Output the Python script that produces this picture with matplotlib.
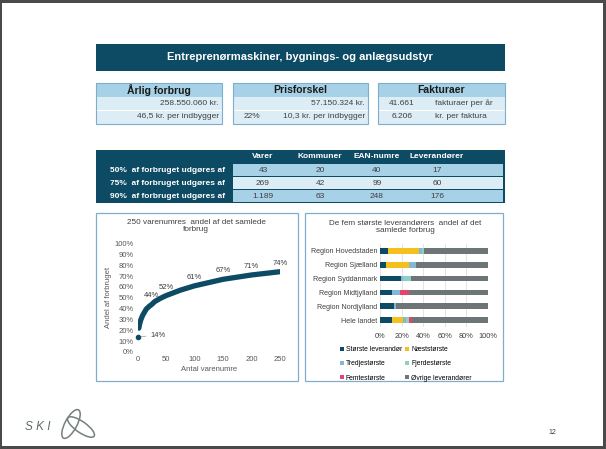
import matplotlib
matplotlib.use("Agg")
import matplotlib.pyplot as plt
from matplotlib.patches import Rectangle, Ellipse

plt.rcParams['font.family'] = ['Liberation Sans', 'DejaVu Sans']

# ---- data ----
titel = "Entreprenørmaskiner, bygnings- og anlægsudstyr"

boks_titler = ["Årlig forbrug", "Prisforskel", "Fakturaer"]
forbrug_kr = "258.550.060 kr."
forbrug_indb = "46,5 kr. per indbygger"
prisforskel_kr = "57.150.324 kr."
prisforskel_pct = "22%"
prisforskel_indb = "10,3 kr. per indbygger"
fakturaer_antal = ["41.661", "6.206"]
fakturaer_tekst = ["fakturaer per år", "kr. per faktura"]

tabel_kolonner = ["Varer", "Kommuner", "EAN-numre", "Leverandører"]
tabel_raekker = ["50%  af forbruget udgøres af", "75%  af forbruget udgøres af",
                 "90%  af forbruget udgøres af"]
tabel_vaerdier = [["43", "20", "40", "17"],
                  ["269", "42", "99", "60"],
                  ["1.189", "63", "248", "176"]]

# left chart: cumulative share for the 250 largest item numbers
vare_x = [1, 2, 3, 5, 8, 10, 15, 20, 25, 30, 40, 50, 60, 75, 100, 125, 150, 175, 200, 225, 250]
andel = [14, 22, 25, 29, 33, 35, 39.5, 42, 44, 46.5, 49.5, 52, 54, 57, 61, 64, 67, 69, 71, 72.5, 74]
label_x = [1, 25, 50, 100, 150, 200, 250]

# right chart: supplier shares per region (%)
regioner = ["Region Hovedstaden", "Region Sjælland", "Region Syddanmark",
            "Region Midtjylland", "Region Nordjylland", "Hele landet"]
stoerste = [7.5, 5.5, 19, 11, 12.5, 11]
naeststoerste = [29, 21, 0, 0, 0, 10.5]
tredje = [2, 7, 2, 7.5, 2, 3]
fjerde = [2.5, 0, 7.5, 0, 0, 2.5]
femte = [0, 0, 0, 8, 0, 3]
serier = ["Største leverandør", "Næststørste", "Tredjestørste",
          "Fjerdestørste", "Femtestørste", "Øvrige leverandører"]

MORK = "#0d4a64"
LYS = "#a7d1e6"
BLEG = "#dcedf6"
KANT = "#7eaecb"
farver = [MORK, "#f3c01c", "#86b6d6", "#8ccfc4", "#e4426f", "#6d7576"]

W, H = 606, 449
fig = plt.figure(figsize=(W / 100, H / 100), dpi=100)
ax0 = fig.add_axes([0, 0, 1, 1])
ax0.set_xlim(0, W)
ax0.set_ylim(H, 0)
ax0.axis("off")


def rect(x0, y0, x1, y1, fc, ec="none", lw=0.8):
    ax0.add_patch(Rectangle((x0, y0), x1 - x0, y1 - y0, fc=fc, ec=ec, lw=lw))


def tekst(x, y, s, **kw):
    kw.setdefault("fontsize", 6)
    kw.setdefault("va", "center")
    ax0.text(x, y, s, **kw)


# slide frame
rect(0, 0, W, H, "#4a4a4a")
rect(2, 3, 603, 446, "white")

# banner
rect(96, 44, 505, 71, MORK)
tekst(300, 57.5, titel, ha="center", color="white", fontsize=8, fontweight="bold")

# three key figure boxes
bokse = [(96, 222), (233, 368), (378, 505)]
for (x0, x1), t in zip(bokse, boks_titler):
    rect(x0, 97, x1, 124, BLEG)
    rect(x0, 83, x1, 97, LYS)
    rect(x0, 110, x1, 110.6, "white")
    rect(x0, 83, x1, 124, "none", ec=KANT, lw=0.8)
    tekst((x0 + x1) / 2, 90, t, ha="center", fontsize=7.5, fontweight="bold", color="#1a1a1a")

tekst(219, 103.5, forbrug_kr, ha="right", color="#404040")
tekst(219, 117, forbrug_indb, ha="right", color="#404040")
tekst(365, 103.5, prisforskel_kr, ha="right", color="#404040")
tekst(244, 117, prisforskel_pct, ha="left", color="#404040")
tekst(365, 117, prisforskel_indb, ha="right", color="#404040")
for i, y in enumerate([103.5, 117]):
    tekst(402, y, fakturaer_antal[i], ha="center", color="#404040")
    tekst(435, y, fakturaer_tekst[i], ha="left", color="#404040")

# table
rect(96, 150, 505, 203, MORK)
kol_x = [263, 320, 377, 437]
raekke_y = [(164, 177), (177, 190), (190, 203)]
for kx, k in zip(kol_x, tabel_kolonner):
    tekst(kx, 157, k, ha="center", color="white", fontweight="bold")
for i, ((y0, y1), navn) in enumerate(zip(raekke_y, tabel_raekker)):
    rect(233, y0, 503, y1 - 0.6, LYS if i != 1 else BLEG)
    tekst(110, (y0 + y1) / 2, navn, ha="left", color="white", fontweight="bold")
    for kx, v in zip(kol_x, tabel_vaerdier[i]):
        tekst(kx, (y0 + y1) / 2, v, ha="center", color="#404040")

# chart boxes
rect(96, 213, 298, 381, "white", ec=KANT, lw=0.9)
rect(305, 213, 503, 381, "white", ec=KANT, lw=0.9)

# footer
tekst(38, 427, "S K I", ha="center", fontsize=8.5, style="italic", color="#5f6a6a")
ax0.add_patch(Ellipse((71, 424), 32, 12, angle=-62, fc="none", ec="#74807f", lw=1.1))
ax0.add_patch(Ellipse((81, 427), 32, 11, angle=35, fc="none", ec="#74807f", lw=1.1))
tekst(552, 433, "12", ha="center", fontsize=5, color="#404040")

# ---- left chart ----
ax1 = fig.add_axes([137.7 / W, 1 - 352 / H, 142.3 / W, 108.5 / H])
ax1.plot(vare_x[1:], andel[1:], color=MORK, lw=3.8, solid_capstyle="round")
ax1.plot(vare_x[0], andel[0], "o", color=MORK, ms=3, clip_on=False)
ax1.set_xlim(0, 250)
ax1.set_ylim(0, 100)
ax1.set_xticks(range(0, 251, 50))
ax1.set_yticks(range(0, 101, 10))
ax1.set_yticklabels([f"{v}%" for v in range(0, 101, 10)])
ax1.tick_params(length=0, labelsize=5.5, labelcolor="#595959", pad=3)
for s in ax1.spines.values():
    s.set_visible(False)
ax1.patch.set_alpha(0)
for lx in label_x:
    v = andel[vare_x.index(lx)]
    if lx == 1:
        ax1.annotate(f"{v}%", (lx, v), xytext=(22, v + 1.5), fontsize=5.5, color="#404040",
                     va="center", arrowprops=dict(arrowstyle="-", color="#999999", lw=0.5,
                                                  shrinkA=1, shrinkB=2))
    else:
        ax1.annotate(f"{v}%", (lx, v), xytext=(0, 6), textcoords="offset points",
                     ha="center", va="center", fontsize=5.5, color="#404040")
ax1.set_xlabel("Antal varenumre", fontsize=5.5, color="#595959", labelpad=2)
ax1.set_ylabel("Andel af forbruget", fontsize=5.5, color="#595959", labelpad=2)
tekst(196, 226, "250 varenumres  andel af det samlede\nforbrug", ha="center",
      fontsize=5.9, color="#404040", linespacing=1.15)

# ---- right chart ----
ax2 = fig.add_axes([380 / W, 1 - 327 / H, 108 / W, 83 / H])
oevrige = [100 - a - b - c - d - e for a, b, c, d, e in
           zip(stoerste, naeststoerste, tredje, fjerde, femte)]
pos = list(range(len(regioner)))
venstre = [0] * len(regioner)
handles = []
for navn, vals, f in zip(serier, [stoerste, naeststoerste, tredje, fjerde, femte, oevrige], farver):
    b = ax2.barh(pos, vals, left=venstre, height=0.42, color=f, label=navn, zorder=3)
    handles.append(b)
    venstre = [l + v for l, v in zip(venstre, vals)]
ax2.set_ylim(len(regioner) - 0.5, -0.5)
ax2.set_xlim(0, 100)
ax2.set_yticks(pos)
ax2.set_yticklabels(regioner)
ax2.set_xticks(range(0, 101, 20))
ax2.set_xticklabels([f"{v}%" for v in range(0, 101, 20)])
ax2.tick_params(axis="y", length=0, labelsize=5.1, labelcolor="#404040", pad=2)
ax2.tick_params(axis="x", length=0, labelsize=5.3, labelcolor="#404040", pad=4)
ax2.grid(axis="x", color="#d9d9d9", lw=0.5, zorder=0)
for s in ax2.spines.values():
    s.set_visible(False)
order = [0, 2, 4, 1, 3, 5]
ax2.legend([handles[i] for i in order], [serier[i] for i in order], ncol=2,
           loc="upper left", bbox_to_anchor=(-0.4, -0.2), frameon=False,
           fontsize=4.9, handlelength=0.6, handleheight=0.6, handletextpad=0.3,
           columnspacing=0.45, labelspacing=1.05, borderaxespad=0)
tekst(405, 227, "De fem største leverandørers  andel af det\nsamlede forbrug", ha="center",
      fontsize=5.9, color="#404040", linespacing=1.15)

fig.savefig("out.png", dpi=100)
